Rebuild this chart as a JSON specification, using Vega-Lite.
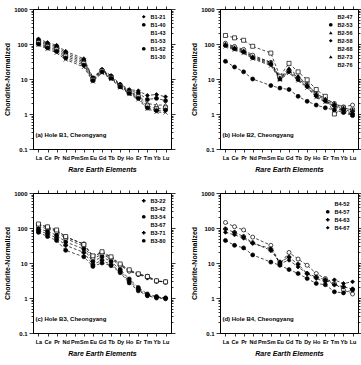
{
"$schema":"https://vega.github.io/schema/vega-lite/v6.json",
"padding":{"left":3,"top":5,"right":1,"bottom":0},
"background":"white",
"datasets":{
"b1":[
{"s":"B1-21","e":"La","v":140},{"s":"B1-21","e":"Ce","v":110},{"s":"B1-21","e":"Pr","v":92},{"s":"B1-21","e":"Nd","v":62},{"s":"B1-21","e":"Sm","v":38},{"s":"B1-21","e":"Eu","v":11},{"s":"B1-21","e":"Gd","v":19},{"s":"B1-21","e":"Tb","v":12.5},{"s":"B1-21","e":"Dy","v":7.2},{"s":"B1-21","e":"Ho","v":5},{"s":"B1-21","e":"Er","v":4.6},{"s":"B1-21","e":"Tm","v":3.4},{"s":"B1-21","e":"Yb","v":3.6},{"s":"B1-21","e":"Lu","v":3.1},
{"s":"B1-40","e":"La","v":128},{"s":"B1-40","e":"Ce","v":100},{"s":"B1-40","e":"Pr","v":84},{"s":"B1-40","e":"Nd","v":56},{"s":"B1-40","e":"Sm","v":34},{"s":"B1-40","e":"Eu","v":10.5},{"s":"B1-40","e":"Gd","v":18},{"s":"B1-40","e":"Tb","v":12},{"s":"B1-40","e":"Dy","v":6.8},{"s":"B1-40","e":"Ho","v":4.6},{"s":"B1-40","e":"Er","v":4},{"s":"B1-40","e":"Tm","v":2.6},{"s":"B1-40","e":"Yb","v":2.8},{"s":"B1-40","e":"Lu","v":2.4},
{"s":"B1-43","e":"La","v":118},{"s":"B1-43","e":"Ce","v":92},{"s":"B1-43","e":"Pr","v":76},{"s":"B1-43","e":"Nd","v":50},{"s":"B1-43","e":"Sm","v":31},{"s":"B1-43","e":"Eu","v":10},{"s":"B1-43","e":"Gd","v":17.5},{"s":"B1-43","e":"Tb","v":11.5},{"s":"B1-43","e":"Dy","v":6.5},{"s":"B1-43","e":"Ho","v":4.3},{"s":"B1-43","e":"Er","v":3.4},{"s":"B1-43","e":"Tm","v":2},{"s":"B1-43","e":"Yb","v":1.8},{"s":"B1-43","e":"Lu","v":1.8},
{"s":"B1-53","e":"La","v":108},{"s":"B1-53","e":"Ce","v":84},{"s":"B1-53","e":"Pr","v":68},{"s":"B1-53","e":"Nd","v":45},{"s":"B1-53","e":"Sm","v":28},{"s":"B1-53","e":"Eu","v":9.5},{"s":"B1-53","e":"Gd","v":17},{"s":"B1-53","e":"Tb","v":11},{"s":"B1-53","e":"Dy","v":6.2},{"s":"B1-53","e":"Ho","v":4.1},{"s":"B1-53","e":"Er","v":3.1},{"s":"B1-53","e":"Tm","v":1.7},{"s":"B1-53","e":"Yb","v":1.4},{"s":"B1-53","e":"Lu","v":1.5},
{"s":"B1-62","e":"La","v":100},{"s":"B1-62","e":"Ce","v":78},{"s":"B1-62","e":"Pr","v":62},{"s":"B1-62","e":"Nd","v":40},{"s":"B1-62","e":"Sm","v":25},{"s":"B1-62","e":"Eu","v":9},{"s":"B1-62","e":"Gd","v":16},{"s":"B1-62","e":"Tb","v":10.5},{"s":"B1-62","e":"Dy","v":6},{"s":"B1-62","e":"Ho","v":3.9},{"s":"B1-62","e":"Er","v":2.8},{"s":"B1-62","e":"Tm","v":1.5},{"s":"B1-62","e":"Yb","v":1.25},{"s":"B1-62","e":"Lu","v":1.3},
{"s":"B1-30","e":"La","v":94},{"s":"B1-30","e":"Ce","v":72},{"s":"B1-30","e":"Pr","v":56},{"s":"B1-30","e":"Nd","v":36},{"s":"B1-30","e":"Sm","v":22},{"s":"B1-30","e":"Eu","v":8.5},{"s":"B1-30","e":"Gd","v":15},{"s":"B1-30","e":"Tb","v":10},{"s":"B1-30","e":"Dy","v":5.7},{"s":"B1-30","e":"Ho","v":3.7},{"s":"B1-30","e":"Er","v":2.6},{"s":"B1-30","e":"Tm","v":1.4},{"s":"B1-30","e":"Yb","v":1.15},{"s":"B1-30","e":"Lu","v":1.1}
],
"b2":[
{"s":"B2-47","e":"La","v":105},{"s":"B2-47","e":"Ce","v":85},{"s":"B2-47","e":"Pr","v":70},{"s":"B2-47","e":"Nd","v":48},{"s":"B2-47","e":"Sm","v":30},{"s":"B2-47","e":"Eu","v":11},{"s":"B2-47","e":"Gd","v":18},{"s":"B2-47","e":"Tb","v":11},{"s":"B2-47","e":"Dy","v":7},{"s":"B2-47","e":"Ho","v":3.8},{"s":"B2-47","e":"Er","v":2.8},{"s":"B2-47","e":"Tm","v":2},{"s":"B2-47","e":"Yb","v":1.6},{"s":"B2-47","e":"Lu","v":1.8},
{"s":"B2-53","e":"La","v":32},{"s":"B2-53","e":"Ce","v":22},{"s":"B2-53","e":"Pr","v":16},{"s":"B2-53","e":"Nd","v":10},{"s":"B2-53","e":"Sm","v":6.5},{"s":"B2-53","e":"Eu","v":5.5},{"s":"B2-53","e":"Gd","v":5},{"s":"B2-53","e":"Tb","v":3.2},{"s":"B2-53","e":"Dy","v":2.3},{"s":"B2-53","e":"Ho","v":1.8},{"s":"B2-53","e":"Er","v":1.5},{"s":"B2-53","e":"Tm","v":1.3},{"s":"B2-53","e":"Yb","v":1.1},{"s":"B2-53","e":"Lu","v":0.9},
{"s":"B2-56","e":"La","v":95},{"s":"B2-56","e":"Ce","v":75},{"s":"B2-56","e":"Pr","v":62},{"s":"B2-56","e":"Nd","v":42},{"s":"B2-56","e":"Sm","v":28},{"s":"B2-56","e":"Eu","v":10},{"s":"B2-56","e":"Gd","v":17},{"s":"B2-56","e":"Tb","v":10},{"s":"B2-56","e":"Dy","v":6.5},{"s":"B2-56","e":"Ho","v":3.5},{"s":"B2-56","e":"Er","v":2.5},{"s":"B2-56","e":"Tm","v":1.8},{"s":"B2-56","e":"Yb","v":1.4},{"s":"B2-56","e":"Lu","v":1.1},
{"s":"B2-58","e":"La","v":90},{"s":"B2-58","e":"Ce","v":72},{"s":"B2-58","e":"Pr","v":58},{"s":"B2-58","e":"Nd","v":40},{"s":"B2-58","e":"Sm","v":26},{"s":"B2-58","e":"Eu","v":10.5},{"s":"B2-58","e":"Gd","v":16},{"s":"B2-58","e":"Tb","v":9.5},{"s":"B2-58","e":"Dy","v":6},{"s":"B2-58","e":"Ho","v":3.2},{"s":"B2-58","e":"Er","v":2.3},{"s":"B2-58","e":"Tm","v":1.7},{"s":"B2-58","e":"Yb","v":1.3},{"s":"B2-58","e":"Lu","v":1.0},
{"s":"B2-68","e":"La","v":175},{"s":"B2-68","e":"Ce","v":150},{"s":"B2-68","e":"Pr","v":128},{"s":"B2-68","e":"Nd","v":86},{"s":"B2-68","e":"Sm","v":55},{"s":"B2-68","e":"Eu","v":12},{"s":"B2-68","e":"Gd","v":28},{"s":"B2-68","e":"Tb","v":16},{"s":"B2-68","e":"Dy","v":9.5},{"s":"B2-68","e":"Ho","v":5},{"s":"B2-68","e":"Er","v":3.2},{"s":"B2-68","e":"Tm","v":1.0},{"s":"B2-68","e":"Yb","v":1.5},{"s":"B2-68","e":"Lu","v":1.3},
{"s":"B2-73","e":"La","v":100},{"s":"B2-73","e":"Ce","v":80},{"s":"B2-73","e":"Pr","v":65},{"s":"B2-73","e":"Nd","v":44},{"s":"B2-73","e":"Sm","v":30},{"s":"B2-73","e":"Eu","v":11},{"s":"B2-73","e":"Gd","v":20},{"s":"B2-73","e":"Tb","v":12},{"s":"B2-73","e":"Dy","v":7},{"s":"B2-73","e":"Ho","v":3.8},{"s":"B2-73","e":"Er","v":2.7},{"s":"B2-73","e":"Tm","v":2},{"s":"B2-73","e":"Yb","v":1.5},{"s":"B2-73","e":"Lu","v":1.3},
{"s":"B2-76","e":"La","v":85},{"s":"B2-76","e":"Ce","v":68},{"s":"B2-76","e":"Pr","v":55},{"s":"B2-76","e":"Nd","v":38},{"s":"B2-76","e":"Sm","v":24},{"s":"B2-76","e":"Eu","v":9.5},{"s":"B2-76","e":"Gd","v":15},{"s":"B2-76","e":"Tb","v":9},{"s":"B2-76","e":"Dy","v":5.6},{"s":"B2-76","e":"Ho","v":3},{"s":"B2-76","e":"Er","v":2.2},{"s":"B2-76","e":"Tm","v":1.6},{"s":"B2-76","e":"Yb","v":1.2},{"s":"B2-76","e":"Lu","v":0.95}
],
"b3":[
{"s":"B3-22","e":"La","v":125},{"s":"B3-22","e":"Ce","v":105},{"s":"B3-22","e":"Pr","v":85},{"s":"B3-22","e":"Nd","v":55},{"s":"B3-22","e":"Sm","v":35},{"s":"B3-22","e":"Eu","v":15},{"s":"B3-22","e":"Gd","v":20},{"s":"B3-22","e":"Tb","v":14},{"s":"B3-22","e":"Dy","v":9},{"s":"B3-22","e":"Ho","v":6},{"s":"B3-22","e":"Er","v":4.7},{"s":"B3-22","e":"Tm","v":3.8},{"s":"B3-22","e":"Yb","v":3},{"s":"B3-22","e":"Lu","v":2.9},
{"s":"B3-42","e":"La","v":110},{"s":"B3-42","e":"Ce","v":95},{"s":"B3-42","e":"Pr","v":78},{"s":"B3-42","e":"Nd","v":50},{"s":"B3-42","e":"Sm","v":30},{"s":"B3-42","e":"Eu","v":13},{"s":"B3-42","e":"Gd","v":18},{"s":"B3-42","e":"Tb","v":13},{"s":"B3-42","e":"Dy","v":8.5},{"s":"B3-42","e":"Ho","v":5.8},{"s":"B3-42","e":"Er","v":4.8},{"s":"B3-42","e":"Tm","v":4.2},{"s":"B3-42","e":"Yb","v":3.1},{"s":"B3-42","e":"Lu","v":2.8},
{"s":"B3-54","e":"La","v":95},{"s":"B3-54","e":"Ce","v":80},{"s":"B3-54","e":"Pr","v":62},{"s":"B3-54","e":"Nd","v":40},{"s":"B3-54","e":"Sm","v":25},{"s":"B3-54","e":"Eu","v":11},{"s":"B3-54","e":"Gd","v":15},{"s":"B3-54","e":"Tb","v":11},{"s":"B3-54","e":"Dy","v":6.5},{"s":"B3-54","e":"Ho","v":3.5},{"s":"B3-54","e":"Er","v":2},{"s":"B3-54","e":"Tm","v":1.3},{"s":"B3-54","e":"Yb","v":1.1},{"s":"B3-54","e":"Lu","v":1.0},
{"s":"B3-67","e":"La","v":130},{"s":"B3-67","e":"Ce","v":108},{"s":"B3-67","e":"Pr","v":88},{"s":"B3-67","e":"Nd","v":57},{"s":"B3-67","e":"Sm","v":34},{"s":"B3-67","e":"Eu","v":16},{"s":"B3-67","e":"Gd","v":21},{"s":"B3-67","e":"Tb","v":15},{"s":"B3-67","e":"Dy","v":9.4},{"s":"B3-67","e":"Ho","v":6.4},{"s":"B3-67","e":"Er","v":4.9},{"s":"B3-67","e":"Tm","v":4.1},{"s":"B3-67","e":"Yb","v":3.1},{"s":"B3-67","e":"Lu","v":2.9},
{"s":"B3-71","e":"La","v":85},{"s":"B3-71","e":"Ce","v":68},{"s":"B3-71","e":"Pr","v":52},{"s":"B3-71","e":"Nd","v":32},{"s":"B3-71","e":"Sm","v":20},{"s":"B3-71","e":"Eu","v":9},{"s":"B3-71","e":"Gd","v":12},{"s":"B3-71","e":"Tb","v":9},{"s":"B3-71","e":"Dy","v":5.8},{"s":"B3-71","e":"Ho","v":3},{"s":"B3-71","e":"Er","v":1.8},{"s":"B3-71","e":"Tm","v":1.2},{"s":"B3-71","e":"Yb","v":1.05},{"s":"B3-71","e":"Lu","v":1.0},
{"s":"B3-80","e":"La","v":75},{"s":"B3-80","e":"Ce","v":57},{"s":"B3-80","e":"Pr","v":44},{"s":"B3-80","e":"Nd","v":23},{"s":"B3-80","e":"Sm","v":15},{"s":"B3-80","e":"Eu","v":8},{"s":"B3-80","e":"Gd","v":10},{"s":"B3-80","e":"Tb","v":8.4},{"s":"B3-80","e":"Dy","v":5.3},{"s":"B3-80","e":"Ho","v":2.7},{"s":"B3-80","e":"Er","v":1.6},{"s":"B3-80","e":"Tm","v":1.16},{"s":"B3-80","e":"Yb","v":1.0},{"s":"B3-80","e":"Lu","v":0.95}
],
"b4":[
{"s":"B4-52","e":"La","v":144},{"s":"B4-52","e":"Ce","v":109},{"s":"B4-52","e":"Pr","v":88},{"s":"B4-52","e":"Nd","v":55},{"s":"B4-52","e":"Sm","v":32},{"s":"B4-52","e":"Eu","v":9.2},{"s":"B4-52","e":"Gd","v":20},{"s":"B4-52","e":"Tb","v":13},{"s":"B4-52","e":"Dy","v":8.6},{"s":"B4-52","e":"Ho","v":5},{"s":"B4-52","e":"Er","v":3.6},{"s":"B4-52","e":"Tm","v":2.6},{"s":"B4-52","e":"Yb","v":1.7},{"s":"B4-52","e":"Lu","v":1.3},
{"s":"B4-57","e":"La","v":44},{"s":"B4-57","e":"Ce","v":32},{"s":"B4-57","e":"Pr","v":27},{"s":"B4-57","e":"Nd","v":17},{"s":"B4-57","e":"Sm","v":10.6},{"s":"B4-57","e":"Eu","v":8.6},{"s":"B4-57","e":"Gd","v":6.5},{"s":"B4-57","e":"Tb","v":5},{"s":"B4-57","e":"Dy","v":3.6},{"s":"B4-57","e":"Ho","v":2.6},{"s":"B4-57","e":"Er","v":2.4},{"s":"B4-57","e":"Tm","v":1.5},{"s":"B4-57","e":"Yb","v":1.4},{"s":"B4-57","e":"Lu","v":1.7},
{"s":"B4-63","e":"La","v":94},{"s":"B4-63","e":"Ce","v":75},{"s":"B4-63","e":"Pr","v":57},{"s":"B4-63","e":"Nd","v":38},{"s":"B4-63","e":"Sm","v":23},{"s":"B4-63","e":"Eu","v":10.6},{"s":"B4-63","e":"Gd","v":14.7},{"s":"B4-63","e":"Tb","v":9.2},{"s":"B4-63","e":"Dy","v":5},{"s":"B4-63","e":"Ho","v":4},{"s":"B4-63","e":"Er","v":3.3},{"s":"B4-63","e":"Tm","v":2.4},{"s":"B4-63","e":"Yb","v":2.1},{"s":"B4-63","e":"Lu","v":1.8},
{"s":"B4-67","e":"La","v":75},{"s":"B4-67","e":"Ce","v":64},{"s":"B4-67","e":"Pr","v":51},{"s":"B4-67","e":"Nd","v":36},{"s":"B4-67","e":"Sm","v":26},{"s":"B4-67","e":"Eu","v":9.6},{"s":"B4-67","e":"Gd","v":12},{"s":"B4-67","e":"Tb","v":7.7},{"s":"B4-67","e":"Dy","v":5},{"s":"B4-67","e":"Ho","v":3.6},{"s":"B4-67","e":"Er","v":2.9},{"s":"B4-67","e":"Tm","v":3.3},{"s":"B4-67","e":"Yb","v":2.6},{"s":"B4-67","e":"Lu","v":2.9}
]
},
"columns":2,
"spacing":{"row":16,"column":14},
"resolve":{"scale":{"shape":"independent","fill":"independent"},"legend":{"shape":"independent","fill":"independent"}},
"concat":[
{"width":138,"height":140,"data":{"name":"b1"},
 "layer":[
  {"mark":{"type":"line","strokeDash":[3,2],"strokeWidth":0.7,"color":"black"},
   "encoding":{
    "x":{"field":"e","type":"ordinal","scale":{"type":"point","domain":["La","Ce","Pr","Nd","Pm","Sm","Eu","Gd","Tb","Dy","Ho","Er","Tm","Yb","Lu"],"padding":0.6},"axis":{"orient":"top","labels":false,"title":null,"tickSize":3,"domain":false}},
    "y":{"field":"v","type":"quantitative","scale":{"type":"log","domain":[0.1,1000]},"axis":{"orient":"right","labels":false,"title":null,"domain":false,"values":[0.1,0.2,0.3,0.4,0.5,0.6,0.7,0.8,0.9,1,2,3,4,5,6,7,8,9,10,20,30,40,50,60,70,80,90,100,200,300,400,500,600,700,800,900,1000],"tickSize":{"condition":{"test":"datum.value == 0.1 || datum.value == 1 || datum.value == 10 || datum.value == 100 || datum.value == 1000","value":4},"value":2}}},
    "detail":{"field":"s"}}},
  {"mark":{"type":"point","filled":true,"size":16,"stroke":"black","strokeWidth":0.7,"opacity":1},
   "encoding":{
    "x":{"field":"e","type":"ordinal","scale":{"type":"point","domain":["La","Ce","Pr","Nd","Pm","Sm","Eu","Gd","Tb","Dy","Ho","Er","Tm","Yb","Lu"],"padding":0.6},"axis":{"labelAngle":0,"labelFontSize":5.5,"labelOverlap":false,"tickSize":3,"labelPadding":3,"title":"Rare Earth Elements","titleFontStyle":"italic","titleFontSize":7,"titlePadding":5}},
    "y":{"field":"v","type":"quantitative","scale":{"type":"log","domain":[0.1,1000]},"axis":{"values":[0.1,0.2,0.3,0.4,0.5,0.6,0.7,0.8,0.9,1,2,3,4,5,6,7,8,9,10,20,30,40,50,60,70,80,90,100,200,300,400,500,600,700,800,900,1000],"labelExpr":"datum.value == 0.1 ? '0.1' : datum.value == 1 ? '1' : datum.value == 10 ? '10' : datum.value == 100 ? '100' : datum.value == 1000 ? '1000' : ''","tickSize":{"condition":{"test":"datum.value == 0.1 || datum.value == 1 || datum.value == 10 || datum.value == 100 || datum.value == 1000","value":4},"value":2},"labelFontSize":6,"labelPadding":2,"title":"Chondrite-Normalized","titleFontSize":7,"titlePadding":3}},
    "shape":{"field":"s","type":"nominal","scale":{"domain":["B1-21","B1-40","B1-43","B1-53","B1-62","B1-30"],"range":["diamond","circle","triangle-up","square","circle","M-1,-1L1,1M-1,1L1,-1"]},"legend":{"title":null,"orient":"top-right","offset":5,"labelFontSize":5.5,"symbolSize":14,"symbolStrokeColor":"black","symbolStrokeWidth":0.7,"rowPadding":0,"padding":0,"labelOffset":4}},
    "fill":{"field":"s","type":"nominal","scale":{"domain":["B1-21","B1-40","B1-43","B1-53","B1-62","B1-30"],"range":["black","black","white","white","black","black"]},"legend":{"title":null,"orient":"top-right","offset":5,"labelFontSize":5.5,"symbolSize":14,"symbolStrokeColor":"black","symbolStrokeWidth":0.7,"rowPadding":0,"padding":0,"labelOffset":4}}}},
  {"data":{"values":[{"t":"(a) Hole B1, Cheongyang"}]},
   "mark":{"type":"text","align":"left","fontSize":6,"fontWeight":"bold","dx":-3,"color":"black"},
   "encoding":{"x":{"datum":"La","type":"ordinal","axis":null},"y":{"datum":0.25,"type":"quantitative","axis":null},"text":{"field":"t"}}}
 ],
 "resolve":{"axis":{"x":"independent","y":"independent"}}},
{"width":138,"height":140,"data":{"name":"b2"},
 "layer":[
  {"mark":{"type":"line","strokeDash":[3,2],"strokeWidth":0.7,"color":"black"},
   "encoding":{
    "x":{"field":"e","type":"ordinal","scale":{"type":"point","domain":["La","Ce","Pr","Nd","Pm","Sm","Eu","Gd","Tb","Dy","Ho","Er","Tm","Yb","Lu"],"padding":0.6},"axis":{"orient":"top","labels":false,"title":null,"tickSize":3,"domain":false}},
    "y":{"field":"v","type":"quantitative","scale":{"type":"log","domain":[0.1,1000]},"axis":{"orient":"right","labels":false,"title":null,"domain":false,"values":[0.1,0.2,0.3,0.4,0.5,0.6,0.7,0.8,0.9,1,2,3,4,5,6,7,8,9,10,20,30,40,50,60,70,80,90,100,200,300,400,500,600,700,800,900,1000],"tickSize":{"condition":{"test":"datum.value == 0.1 || datum.value == 1 || datum.value == 10 || datum.value == 100 || datum.value == 1000","value":4},"value":2}}},
    "detail":{"field":"s"}}},
  {"mark":{"type":"point","filled":true,"size":16,"stroke":"black","strokeWidth":0.7,"opacity":1},
   "encoding":{
    "x":{"field":"e","type":"ordinal","scale":{"type":"point","domain":["La","Ce","Pr","Nd","Pm","Sm","Eu","Gd","Tb","Dy","Ho","Er","Tm","Yb","Lu"],"padding":0.6},"axis":{"labelAngle":0,"labelFontSize":5.5,"labelOverlap":false,"tickSize":3,"labelPadding":3,"title":"Rare Earth Elements","titleFontStyle":"italic","titleFontSize":7,"titlePadding":5}},
    "y":{"field":"v","type":"quantitative","scale":{"type":"log","domain":[0.1,1000]},"axis":{"values":[0.1,0.2,0.3,0.4,0.5,0.6,0.7,0.8,0.9,1,2,3,4,5,6,7,8,9,10,20,30,40,50,60,70,80,90,100,200,300,400,500,600,700,800,900,1000],"labelExpr":"datum.value == 0.1 ? '0.1' : datum.value == 1 ? '1' : datum.value == 10 ? '10' : datum.value == 100 ? '100' : datum.value == 1000 ? '1000' : ''","tickSize":{"condition":{"test":"datum.value == 0.1 || datum.value == 1 || datum.value == 10 || datum.value == 100 || datum.value == 1000","value":4},"value":2},"labelFontSize":6,"labelPadding":2,"title":"Chondrite-Normalized","titleFontSize":7,"titlePadding":3}},
    "shape":{"field":"s","type":"nominal","scale":{"domain":["B2-47","B2-53","B2-56","B2-58","B2-68","B2-73","B2-76"],"range":["circle","circle","triangle-up","diamond","square","triangle-up","M-1,-1L1,1M-1,1L1,-1"]},"legend":{"title":null,"orient":"top-right","offset":5,"labelFontSize":5.5,"symbolSize":14,"symbolStrokeColor":"black","symbolStrokeWidth":0.7,"rowPadding":0,"padding":0,"labelOffset":4}},
    "fill":{"field":"s","type":"nominal","scale":{"domain":["B2-47","B2-53","B2-56","B2-58","B2-68","B2-73","B2-76"],"range":["white","black","black","black","white","black","black"]},"legend":{"title":null,"orient":"top-right","offset":5,"labelFontSize":5.5,"symbolSize":14,"symbolStrokeColor":"black","symbolStrokeWidth":0.7,"rowPadding":0,"padding":0,"labelOffset":4}}}},
  {"data":{"values":[{"t":"(b) Hole B2, Cheongyang"}]},
   "mark":{"type":"text","align":"left","fontSize":6,"fontWeight":"bold","dx":-3,"color":"black"},
   "encoding":{"x":{"datum":"La","type":"ordinal","axis":null},"y":{"datum":0.25,"type":"quantitative","axis":null},"text":{"field":"t"}}}
 ],
 "resolve":{"axis":{"x":"independent","y":"independent"}}},
{"width":138,"height":140,"data":{"name":"b3"},
 "layer":[
  {"mark":{"type":"line","strokeDash":[3,2],"strokeWidth":0.7,"color":"black"},
   "encoding":{
    "x":{"field":"e","type":"ordinal","scale":{"type":"point","domain":["La","Ce","Pr","Nd","Pm","Sm","Eu","Gd","Tb","Dy","Ho","Er","Tm","Yb","Lu"],"padding":0.6},"axis":{"orient":"top","labels":false,"title":null,"tickSize":3,"domain":false}},
    "y":{"field":"v","type":"quantitative","scale":{"type":"log","domain":[0.1,1000]},"axis":{"orient":"right","labels":false,"title":null,"domain":false,"values":[0.1,0.2,0.3,0.4,0.5,0.6,0.7,0.8,0.9,1,2,3,4,5,6,7,8,9,10,20,30,40,50,60,70,80,90,100,200,300,400,500,600,700,800,900,1000],"tickSize":{"condition":{"test":"datum.value == 0.1 || datum.value == 1 || datum.value == 10 || datum.value == 100 || datum.value == 1000","value":4},"value":2}}},
    "detail":{"field":"s"}}},
  {"mark":{"type":"point","filled":true,"size":16,"stroke":"black","strokeWidth":0.7,"opacity":1},
   "encoding":{
    "x":{"field":"e","type":"ordinal","scale":{"type":"point","domain":["La","Ce","Pr","Nd","Pm","Sm","Eu","Gd","Tb","Dy","Ho","Er","Tm","Yb","Lu"],"padding":0.6},"axis":{"labelAngle":0,"labelFontSize":5.5,"labelOverlap":false,"tickSize":3,"labelPadding":3,"title":"Rare Earth Elements","titleFontStyle":"italic","titleFontSize":7,"titlePadding":5}},
    "y":{"field":"v","type":"quantitative","scale":{"type":"log","domain":[0.1,1000]},"axis":{"values":[0.1,0.2,0.3,0.4,0.5,0.6,0.7,0.8,0.9,1,2,3,4,5,6,7,8,9,10,20,30,40,50,60,70,80,90,100,200,300,400,500,600,700,800,900,1000],"labelExpr":"datum.value == 0.1 ? '0.1' : datum.value == 1 ? '1' : datum.value == 10 ? '10' : datum.value == 100 ? '100' : datum.value == 1000 ? '1000' : ''","tickSize":{"condition":{"test":"datum.value == 0.1 || datum.value == 1 || datum.value == 10 || datum.value == 100 || datum.value == 1000","value":4},"value":2},"labelFontSize":6,"labelPadding":2,"title":"Chondrite-Normalized","titleFontSize":7,"titlePadding":3}},
    "shape":{"field":"s","type":"nominal","scale":{"domain":["B3-22","B3-42","B3-54","B3-67","B3-71","B3-80"],"range":["cross","circle","circle","square","cross","circle"]},"legend":{"title":null,"orient":"top-right","offset":5,"labelFontSize":5.5,"symbolSize":14,"symbolStrokeColor":"black","symbolStrokeWidth":0.7,"rowPadding":0,"padding":0,"labelOffset":4}},
    "fill":{"field":"s","type":"nominal","scale":{"domain":["B3-22","B3-42","B3-54","B3-67","B3-71","B3-80"],"range":["black","white","black","white","black","black"]},"legend":{"title":null,"orient":"top-right","offset":5,"labelFontSize":5.5,"symbolSize":14,"symbolStrokeColor":"black","symbolStrokeWidth":0.7,"rowPadding":0,"padding":0,"labelOffset":4}}}},
  {"data":{"values":[{"t":"(c) Hole B3, Cheongyang"}]},
   "mark":{"type":"text","align":"left","fontSize":6,"fontWeight":"bold","dx":-3,"color":"black"},
   "encoding":{"x":{"datum":"La","type":"ordinal","axis":null},"y":{"datum":0.25,"type":"quantitative","axis":null},"text":{"field":"t"}}}
 ],
 "resolve":{"axis":{"x":"independent","y":"independent"}}},
{"width":138,"height":140,"data":{"name":"b4"},
 "layer":[
  {"mark":{"type":"line","strokeDash":[3,2],"strokeWidth":0.7,"color":"black"},
   "encoding":{
    "x":{"field":"e","type":"ordinal","scale":{"type":"point","domain":["La","Ce","Pr","Nd","Pm","Sm","Eu","Gd","Tb","Dy","Ho","Er","Tm","Yb","Lu"],"padding":0.6},"axis":{"orient":"top","labels":false,"title":null,"tickSize":3,"domain":false}},
    "y":{"field":"v","type":"quantitative","scale":{"type":"log","domain":[0.1,1000]},"axis":{"orient":"right","labels":false,"title":null,"domain":false,"values":[0.1,0.2,0.3,0.4,0.5,0.6,0.7,0.8,0.9,1,2,3,4,5,6,7,8,9,10,20,30,40,50,60,70,80,90,100,200,300,400,500,600,700,800,900,1000],"tickSize":{"condition":{"test":"datum.value == 0.1 || datum.value == 1 || datum.value == 10 || datum.value == 100 || datum.value == 1000","value":4},"value":2}}},
    "detail":{"field":"s"}}},
  {"mark":{"type":"point","filled":true,"size":16,"stroke":"black","strokeWidth":0.7,"opacity":1},
   "encoding":{
    "x":{"field":"e","type":"ordinal","scale":{"type":"point","domain":["La","Ce","Pr","Nd","Pm","Sm","Eu","Gd","Tb","Dy","Ho","Er","Tm","Yb","Lu"],"padding":0.6},"axis":{"labelAngle":0,"labelFontSize":5.5,"labelOverlap":false,"tickSize":3,"labelPadding":3,"title":"Rare Earth Elements","titleFontStyle":"italic","titleFontSize":7,"titlePadding":5}},
    "y":{"field":"v","type":"quantitative","scale":{"type":"log","domain":[0.1,1000]},"axis":{"values":[0.1,0.2,0.3,0.4,0.5,0.6,0.7,0.8,0.9,1,2,3,4,5,6,7,8,9,10,20,30,40,50,60,70,80,90,100,200,300,400,500,600,700,800,900,1000],"labelExpr":"datum.value == 0.1 ? '0.1' : datum.value == 1 ? '1' : datum.value == 10 ? '10' : datum.value == 100 ? '100' : datum.value == 1000 ? '1000' : ''","tickSize":{"condition":{"test":"datum.value == 0.1 || datum.value == 1 || datum.value == 10 || datum.value == 100 || datum.value == 1000","value":4},"value":2},"labelFontSize":6,"labelPadding":2,"title":"Chondrite-Normalized","titleFontSize":7,"titlePadding":3}},
    "shape":{"field":"s","type":"nominal","scale":{"domain":["B4-52","B4-57","B4-63","B4-67"],"range":["circle","circle","cross","diamond"]},"legend":{"title":null,"orient":"top-right","offset":8,"labelFontSize":5.5,"symbolSize":14,"symbolStrokeColor":"black","symbolStrokeWidth":0.7,"rowPadding":0,"padding":0,"labelOffset":4}},
    "fill":{"field":"s","type":"nominal","scale":{"domain":["B4-52","B4-57","B4-63","B4-67"],"range":["white","black","black","black"]},"legend":{"title":null,"orient":"top-right","offset":8,"labelFontSize":5.5,"symbolSize":14,"symbolStrokeColor":"black","symbolStrokeWidth":0.7,"rowPadding":0,"padding":0,"labelOffset":4}}}},
  {"data":{"values":[{"t":"(d) Hole B4, Cheongyang"}]},
   "mark":{"type":"text","align":"left","fontSize":6,"fontWeight":"bold","dx":-3,"color":"black"},
   "encoding":{"x":{"datum":"La","type":"ordinal","axis":null},"y":{"datum":0.25,"type":"quantitative","axis":null},"text":{"field":"t"}}}
 ],
 "resolve":{"axis":{"x":"independent","y":"independent"}}}
],
"config":{
 "font":"Liberation Sans",
 "view":{"stroke":"black","strokeWidth":1},
 "axis":{"grid":false,"domainColor":"black","tickColor":"black","labelColor":"black","titleColor":"black","titleFontWeight":"bold","labelFontWeight":"bold","tickWidth":0.8},
 "legend":{"labelColor":"black","labelFontWeight":"bold"}
}
}
